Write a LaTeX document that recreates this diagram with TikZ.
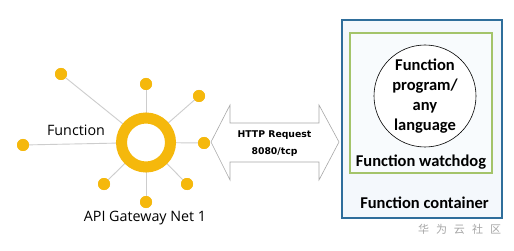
\documentclass[tikz,border=0pt]{standalone}
\usepackage{fontspec}
\setmainfont{Carlito}
\newfontfamily\leftfont{Open Sans}
\newfontfamily\httpfont{DejaVu Sans}
\newfontfamily\cjk{Noto Sans CJK SC}
\definecolor{ringc}{HTML}{F5B80C}
\definecolor{spoke}{HTML}{CDCDCD}
\definecolor{boxblue}{HTML}{2F6E9B}
\definecolor{boxgreen}{HTML}{A4C46A}
\definecolor{tintblue}{HTML}{F4F8FC}
\definecolor{arrowgrey}{HTML}{A8A8A8}
\begin{document}
\begin{tikzpicture}[x=1pt,y=-1pt,
  dot/.style={circle,fill=ringc,inner sep=0pt,minimum size=12pt},
  spokeline/.style={draw=spoke,line width=0.9pt},
  lbl/.style={font=\leftfont\fontsize{14.3}{16}\selectfont,inner sep=0pt},
  boldlbl/.style={font=\bfseries\fontsize{16.5}{20}\selectfont,inner sep=0pt,align=center}]
\useasboundingbox[fill=white] (0,0) rectangle (514,251);
\coordinate (hub) at (146,142.5);
\node[dot] (d1) at (61,74) {};
\node[dot] (d2) at (146,84) {};
\node[dot] (d3) at (199,96) {};
\node[dot] (d4) at (23,145) {};
\node[dot] (d5) at (204,143) {};
\node[dot] (d6) at (104,184) {};
\node[dot] (d7) at (187,184) {};
\node[dot] (d8) at (146,202) {};
\foreach \d in {d1,d2,d3,d4,d5,d6,d7,d8} \draw[spokeline] (hub) -- (\d.center);
\foreach \d in {d1,d2,d3,d4,d5,d6,d7,d8} \node[dot] at (\d) {};
\node[circle,draw=ringc,line width=11pt,fill=white,minimum size=49pt,inner sep=0pt] (ring) at (hub) {};
\node[lbl] (fn) at (76,130) {Function};
\node[lbl] (api) at (145,218) {API Gateway Net 1};
% double arrow
\draw[draw=arrowgrey,fill=white,line width=0.6pt]
  (211,142) coordinate (tipL) -- (230,105) -- (230,123) -- (319,123) -- (319,105)
  -- (339,142) coordinate (tipR) -- (319,180) -- (319,162) -- (230,162) -- (230,180) -- cycle;
\node[font=\httpfont\bfseries\fontsize{9.3}{17}\selectfont,align=center,inner sep=0pt] (http) at (274.5,143.5) {HTTP Request\\8080/tcp};
% container
\node[draw=boxblue,line width=2.8pt,fill=tintblue,minimum width=160pt,minimum height=198pt,inner sep=0pt] (cont) at (422,119) {};
\node[draw=boxgreen,line width=2.4pt,fill=tintblue!60!white,minimum width=142pt,minimum height=140pt,inner sep=0pt] (wd) at (421,103) {};
\node[circle,draw=black,line width=0.6pt,fill=white,minimum size=102pt,inner sep=0pt] (prog) at (425,96) {};
\node[boldlbl] at (425,96.5) {Function\\program/\\any\\language};
\node[boldlbl] (wdl) at (421,162) {Function watchdog};
\node[boldlbl] (contl) at (424.5,203) {Function container};
\node[font=\cjk\fontsize{11}{12}\selectfont,text=black!35,inner sep=0pt] (wm) at (459.5,229) {华\hspace{7pt}为\hspace{7pt}云\hspace{7pt}社\hspace{7pt}区};
\end{tikzpicture}
\end{document}
